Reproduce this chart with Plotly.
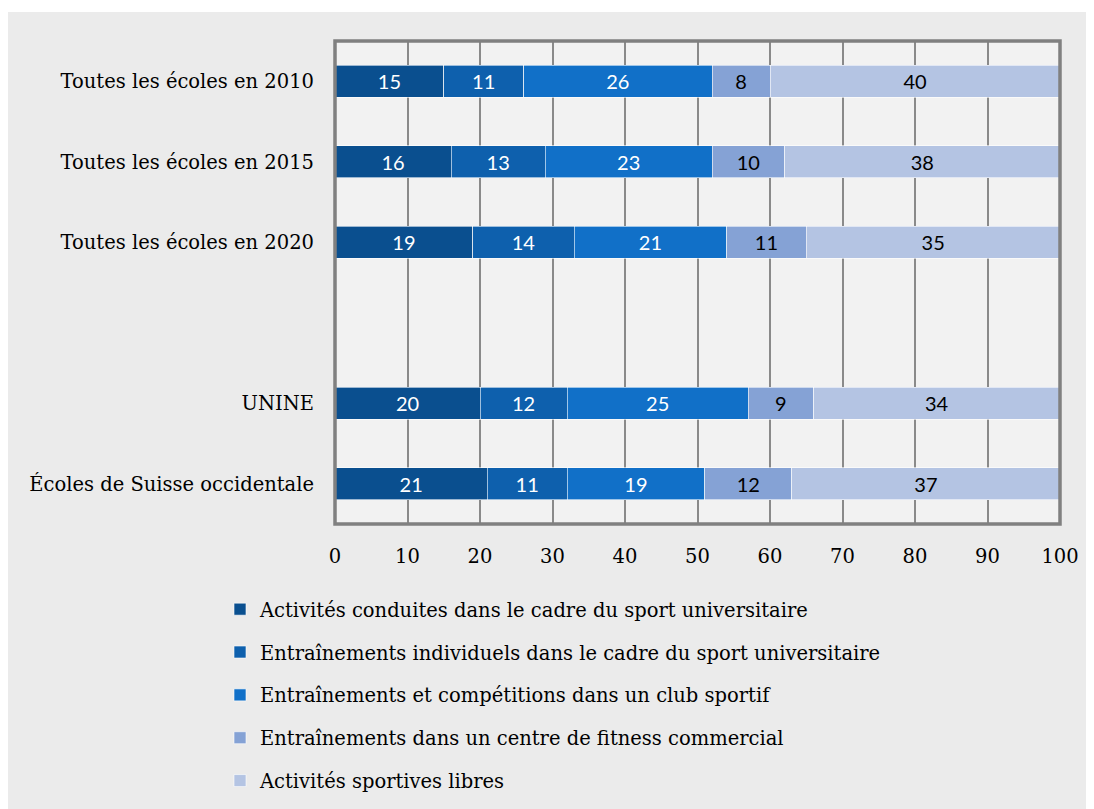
import plotly.graph_objects as go

# Data
categories = ["Toutes les écoles en 2010", "Toutes les écoles en 2015", "Toutes les écoles en 2020",
              " ", "UNINE", "Écoles de Suisse occidentale"]
series_names = [
    "Activités conduites dans le cadre du sport universitaire",
    "Entraînements individuels dans le cadre du sport universitaire",
    "Entraînements et compétitions dans un club sportif",
    "Entraînements dans un centre de fitness commercial",
    "Activités sportives libres",
]
conduites = [15, 16, 19, None, 20, 21]
individuels = [11, 13, 14, None, 12, 11]
club = [26, 23, 21, None, 25, 19]
fitness = [8, 10, 11, None, 9, 12]
libres = [40, 38, 35, None, 34, 37]
x_ticks = [0, 10, 20, 30, 40, 50, 60, 70, 80, 90, 100]

colors = ["#0a4f8f", "#0e60ad", "#1170c8", "#85a2d5", "#b4c4e3"]
text_colors = ["white", "white", "white", "black", "black"]
serif = "DejaVu Serif"

fig = go.Figure()
for i, vals in enumerate([conduites, individuels, club, fitness, libres]):
    fig.add_trace(go.Bar(
        y=categories, x=vals, orientation="h", name=series_names[i],
        legendgroup=str(i), width=0.4,
        marker=dict(color=colors[i], line=dict(color="white", width=0.6)),
        text=[("" if v is None else str(v)) for v in vals],
        textposition="inside", insidetextanchor="middle", constraintext="none",
        textfont=dict(family="Lato", size=20, color=text_colors[i]),
        hoverinfo="x+name",
    ))

# canvas geometry (page body adds an 8px offset)
W, H = 1094, 809
ml, mr, mt, mb = 327, 42, 33, 293
pw, ph = W - ml - mr, H - mt - mb

def px(x):
    return (x - 8 - ml) / pw

def py(y):
    return (H - mb - (y - 8)) / ph

fig.update_layout(
    width=W, height=H, barmode="stack",
    margin=dict(l=ml, r=mr, t=mt, b=mb),
    paper_bgcolor="white", plot_bgcolor="rgba(0,0,0,0)",
    font=dict(family=serif, size=19.5, color="black"),
    showlegend=True,
    legend=dict(orientation="v", x=px(220), y=py(590), xanchor="left", yanchor="top",
                bgcolor="rgba(0,0,0,0)", font=dict(family=serif, size=19.5),
                tracegroupgap=14.5, traceorder="grouped"),
    shapes=[
        dict(type="rect", xref="paper", yref="paper", layer="below",
             x0=px(8), x1=px(1110), y0=py(830), y1=py(12),
             fillcolor="#ebebeb", line=dict(width=0)),
        dict(type="rect", xref="paper", yref="paper", layer="below",
             x0=0, x1=1, y0=0, y1=1, fillcolor="#f2f2f2", line=dict(width=0)),
        dict(type="rect", xref="paper", yref="paper", layer="above",
             x0=0, x1=1, y0=0, y1=1, line=dict(color="#808080", width=3.5)),
    ],
)

fig.update_xaxes(range=[0, 100], tickvals=x_ticks, showgrid=True, gridcolor="#8a8a8a",
                 gridwidth=2, zeroline=False, showline=False, ticks="",
                 ticklabelstandoff=18, tickfont=dict(family=serif, size=19.5))
fig.update_yaxes(categoryorder="array", categoryarray=categories, autorange="reversed",
                 showgrid=False, zeroline=False, showline=False, ticks="",
                 ticklabelstandoff=20, tickfont=dict(family=serif, size=19.5))

fig.write_html("out.html")
